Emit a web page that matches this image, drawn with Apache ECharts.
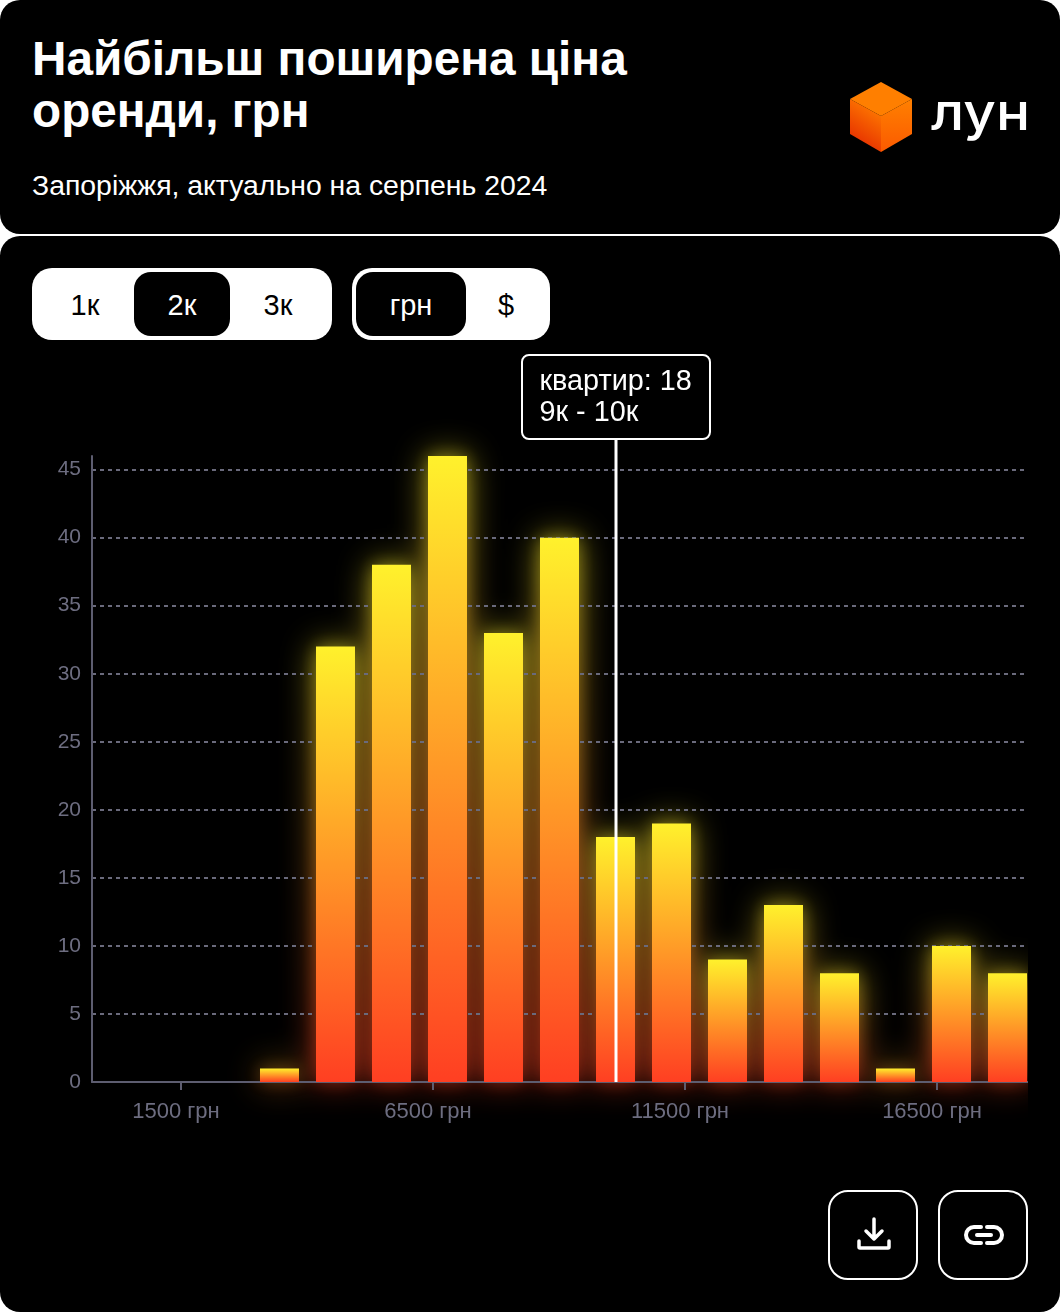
<!DOCTYPE html>
<html lang="uk">
<head>
<meta charset="utf-8">
<title>Найбільш поширена ціна оренди, грн</title>
<script src="https://cdn.jsdelivr.net/npm/echarts@6/dist/echarts.min.js"></script>
<style>
  html, body { margin: 0; padding: 0; background: #fff; }
  body { position: relative; width: 1060px; height: 1314px; overflow: hidden; font-family: "Liberation Sans", Arial, sans-serif; }
  .card { position: absolute; left: 0; width: 1060px; background: #000; border-radius: 20px; }
  #head { top: 0; height: 234px; }
  #body { top: 236px; height: 1076px; }
  h1 { position: absolute; left: 32px; top: 33px; margin: 0; color: #fff; font-size: 47.7px; line-height: 52px; font-weight: 700; }
  .sub { position: absolute; left: 32px; top: 170px; color: #fff; font-size: 28.4px; line-height: 30px; }
  .logo { position: absolute; left: 850px; top: 82px; }
  .seg { position: absolute; top: 268px; height: 72px; background: #fff; border-radius: 20px; }
  .seg span { position: absolute; top: 4px; height: 64px; line-height: 66px; text-align: center; font-size: 29px; color: #000; border-radius: 17px; }
  .seg span.on { background: #000; color: #fff; }
  .btn { position: absolute; top: 1190px; width: 86px; height: 86px; border: 2px solid #fff; border-radius: 20px; background: #000; }
  #clip { position: absolute; left: 0; top: 340px; width: 1028px; height: 800px; overflow: hidden; }
  #glowWide, #glowTight, #chart { position: absolute; left: 0; top: 0; width: 1028px; height: 800px; }
  #glowWide { filter: blur(17px); opacity: 0.6; }
  #glowTight { filter: blur(8px); opacity: 0.3; }
</style>
</head>
<body>
<div class="card" id="head"></div>
<div class="card" id="body"></div>
<h1>Найбільш поширена ціна<br>оренди, грн</h1>
<div class="sub">Запоріжжя, актуально на серпень 2024</div>
<svg class="logo" width="180" height="72" viewBox="0 0 180 72">
  <defs>
    <linearGradient id="cubeL" x1="0.8" y1="0" x2="0.4" y2="1"><stop offset="0.1" stop-color="#ff7a00"/><stop offset="1" stop-color="#e42a00"/></linearGradient>
    <linearGradient id="cubeR" x1="0" y1="0" x2="0" y2="1"><stop offset="0" stop-color="#ff8000"/><stop offset="1" stop-color="#fb5a00"/></linearGradient>
  </defs>
  <polygon points="31,0 62,17 31,34 0,17" fill="#ff7f00"/>
  <polygon points="0,17 31,34 31,70 0,52" fill="url(#cubeL)"/>
  <polygon points="62,17 31,34 31,70 62,52" fill="url(#cubeR)"/>
  <text x="81" y="48" fill="#fff" font-family="Inter, sans-serif" font-size="52" font-weight="500" textLength="99" lengthAdjust="spacingAndGlyphs">лун</text>
</svg>

<div class="seg" style="left:32px;width:300px">
  <span style="left:5px;width:96px">1к</span>
  <span class="on" style="left:102px;width:96px">2к</span>
  <span style="left:198px;width:96px">3к</span>
</div>
<div class="seg" style="left:352px;width:198px">
  <span class="on" style="left:4px;width:110px">грн</span>
  <span style="left:114px;width:80px">$</span>
</div>

<div id="clip">
  <div id="glowWide"></div>
  <div id="glowTight"></div>
  <div id="chart"></div>
</div>

<div class="btn" style="left:828px">
  <svg width="86" height="86" viewBox="0 0 86 86" fill="none" stroke="#fff" stroke-width="3.5" stroke-linecap="round" stroke-linejoin="round">
    <path d="M44 27 V47 M36 39 L44 47 L52 39"/>
    <path d="M29 49 V55 Q29 56 30 56 H58 Q59 56 59 55 V49"/>
  </svg>
</div>
<div class="btn" style="left:938px">
  <svg width="86" height="86" viewBox="0 0 86 86" fill="none" stroke="#fff" stroke-width="4" stroke-linecap="round">
    <path d="M41 35 H34 A8 8 0 0 0 34 51 H41"/>
    <path d="M47 35 H54 A8 8 0 0 1 54 51 H47"/>
    <path d="M37 43 H51"/>
  </svg>
</div>

<script>
const binMids = [3500, 4500, 5500, 6500, 7500, 8500, 9500, 10500, 11500, 12500, 13500, 14500, 15500, 16500];
const counts = [1, 32, 38, 46, 33, 40, 18, 19, 9, 13, 8, 1, 10, 8];
const priceTicks = [1500, 6500, 11500, 16500];
const countTicks = [0, 5, 10, 15, 20, 25, 30, 35, 40, 45];
const activeBin = 9500;
const activeCount = 18;
const activeLabel = '9к - 10к';

const axisColor = '#5d5d70';
const textColor = '#6d6d80';
const barFill = new echarts.graphic.LinearGradient(0, 0, 0, 1, [
  { offset: 0, color: '#fff12c' },
  { offset: 1, color: '#ff3f22' }
]);

function baseOption() {
  return {
    backgroundColor: 'transparent',
    animation: false,
    grid: { left: 92, right: 0, top: 116, height: 626 },
    xAxis: [
      {
        type: 'value', min: -256, max: 18316,
        axisLine: { show: true, onZero: false, lineStyle: { color: axisColor, width: 2 } },
        axisTick: { show: true, length: 8, customValues: priceTicks, lineStyle: { color: axisColor, width: 2 } },
        axisLabel: {
          customValues: priceTicks, margin: 19, color: textColor, fontSize: 22, fontFamily: 'Liberation Sans',
          padding: [0, 9, 0, 0], formatter: v => v + ' грн'
        },
        splitLine: { show: false }
      },
      { type: 'value', min: 152, max: 16866, show: false, splitLine: { show: false } }
    ],
    yAxis: {
      type: 'value', min: 0, max: 46,
      axisLine: { show: true, onZero: false, lineStyle: { color: axisColor, width: 2 } },
      axisTick: { show: false, customValues: countTicks },
      axisLabel: { customValues: countTicks, margin: 11, padding: [2, 0, 0, 0], color: textColor, fontSize: 21, fontFamily: 'Liberation Sans' },
      splitLine: { show: true, lineStyle: { color: '#6a6a7c', width: 2, type: [4, 4] } }
    }
  };
}

function barSeries() {
  return {
    type: 'bar', xAxisIndex: 1, barWidth: 39, clip: false, silent: true,
    data: binMids.map((m, i) => [m, counts[i]]),
    itemStyle: { color: barFill }
  };
}

// white marker line and its label box, placed on the active bin
function renderMarker(params, api) {
  const base = api.coord([api.value(0), 0]);
  const top = api.coord([api.value(0), 47.25]);
  const cx = base[0];
  return {
    type: 'group',
    children: [
      { type: 'line', shape: { x1: cx + 0.5, y1: base[1], x2: cx + 0.5, y2: top[1] }, style: { stroke: '#fff', lineWidth: 3 } },
      {
        type: 'rect',
        shape: { x: cx - 93.5, y: top[1] - 84, width: 188, height: 84, r: 7 },
        style: { fill: '#000', stroke: '#fff', lineWidth: 2 }
      },
      {
        type: 'text', x: cx - 76, y: top[1] - 41,
        style: {
          text: 'квартир: ' + api.value(1) + '\n' + activeLabel,
          fill: '#fff', fontSize: 28.8, lineHeight: 31, fontFamily: 'Liberation Sans',
          align: 'left', verticalAlign: 'middle'
        }
      }
    ]
  };
}

// blurred copies underneath give the yellow-to-red glow
['glowWide', 'glowTight'].forEach(id => {
  const glowOption = baseOption();
  glowOption.xAxis[0].show = false;
  glowOption.yAxis.show = false;
  glowOption.yAxis.splitLine.show = false;
  glowOption.series = [barSeries()];
  echarts.init(document.getElementById(id)).setOption(glowOption);
});

const mainOption = baseOption();
mainOption.series = [
  barSeries(),
  { type: 'custom', xAxisIndex: 1, clip: false, silent: true, z: 5, data: [[activeBin, activeCount]], renderItem: renderMarker }
];
echarts.init(document.getElementById('chart')).setOption(mainOption);
</script>
</body>
</html>
